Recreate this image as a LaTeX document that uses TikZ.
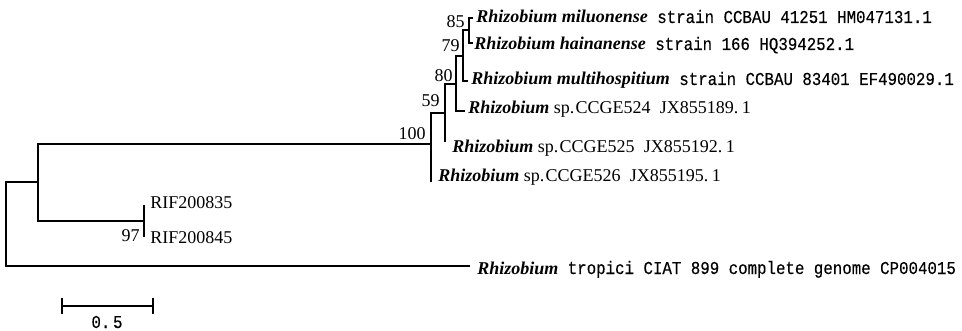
\documentclass[tikz,border=0pt]{standalone}
\usepackage{fontspec}
\setmainfont{Liberation Serif}
\newfontfamily\monof[FakeStretch=0.87,FakeBold=0.3]{Liberation Mono}
\newcommand\tnr{\fontsize{13.5}{16}\selectfont}
\newcommand\sm{\monof\fontsize{13.6}{16}\selectfont}
\newcommand\gen[1]{\textbf{\textit{#1}}}
\begin{document}
\begin{tikzpicture}[x=0.75pt,y=-0.75pt,
  branch/.style={line width=1.5pt, draw=black},
  lbl/.style={anchor=base west, inner sep=0pt, font=\tnr},
  boot/.style={anchor=base east, inner sep=0pt, font=\tnr}]
\useasboundingbox (0,0) rectangle (962,331);
% leaf ends
\coordinate (l1) at (473,18);
\coordinate (l2) at (473,43);
\coordinate (l3) at (468,81);
\coordinate (l4) at (465,111);
\coordinate (l5) at (445,142);
\coordinate (l6) at (431,182);
\coordinate (l7) at (144,205);
\coordinate (l8) at (144,237);
\coordinate (l9) at (470,266);
% internal nodes
\coordinate (n85) at (469,30.5);
\coordinate (n79) at (463,56);
\coordinate (n80) at (456,84);
\coordinate (n59) at (445,113);
\coordinate (n100) at (431,144);
\coordinate (n97) at (144,221);
\coordinate (nA) at (38,182);
\coordinate (root) at (6,224);
% branches
\draw[branch] (n85) |- (l1);
\draw[branch] (n85) |- (l2);
\draw[branch] (n79) |- (n85);
\draw[branch] (n79) |- (l3);
\draw[branch] (n80) |- (n79);
\draw[branch] (n80) |- (l4);
\draw[branch] (n59) |- (n80);
\draw[branch] (n59) -- (l5);
\draw[branch] (n100) |- (n59);
\draw[branch] (n100) -- (l6);
\draw[branch] (nA) |- (n100);
\draw[branch] (nA) |- (n97);
\draw[branch] (n97) -- (l7);
\draw[branch] (n97) -- (l8);
\draw[branch] (root) |- (nA);
\draw[branch] (root) |- (l9);
% leaf labels
\node[lbl] (t1) at (476,23) {\gen{Rhizobium miluonense}{\sm{} strain CCBAU 41251 HM047131.1}};
\node[lbl] (t2) at (474,50) {\gen{Rhizobium hainanense}{\sm{} strain 166 HQ394252.1}};
\node[lbl] (t3) at (471,85) {\gen{Rhizobium multihospitium}{\sm{} strain CCBAU 83401 EF490029.1}};
\node[lbl] (t4) at (468,114) {\gen{Rhizobium} sp.\kern1pt CCGE524\hspace{7pt}JX855189.\kern2.5pt1};
\node[lbl] (t5) at (452,153) {\gen{Rhizobium} sp.\kern1pt CCGE525\hspace{7pt}JX855192.\kern2.5pt1};
\node[lbl] (t6) at (438,181) {\gen{Rhizobium} sp.\kern1pt CCGE526\hspace{7pt}JX855195.\kern2.5pt1};
\node[lbl] (t7) at (150,209) {RIF200835};
\node[lbl] (t8) at (150,243) {RIF200845};
\node[lbl] (t9) at (477,274) {\gen{Rhizobium}{\sm{} tropici CIAT 899 complete genome CP004015}};
% bootstrap values
\node[boot] (b85) at (465,28) {85};
\node[boot] (b79) at (460,52) {79};
\node[boot] (b80) at (453,82) {80};
\node[boot] (b59) at (440,107) {59};
\node[boot] (b100) at (426,140) {100};
\node[boot] (b97) at (140,241) {97};
% scale bar
\coordinate (s1) at (62,306);
\coordinate (s2) at (153,306);
\draw[branch] (s1) -- (s2);
\draw[branch] ([yshift=6pt]s1) -- ([yshift=-6pt]s1);
\draw[branch] ([yshift=6pt]s2) -- ([yshift=-6pt]s2);
\node[anchor=base, inner sep=0pt, font=\sm] (sc) at (107,328) {0.\kern2pt5};
\end{tikzpicture}
\end{document}
